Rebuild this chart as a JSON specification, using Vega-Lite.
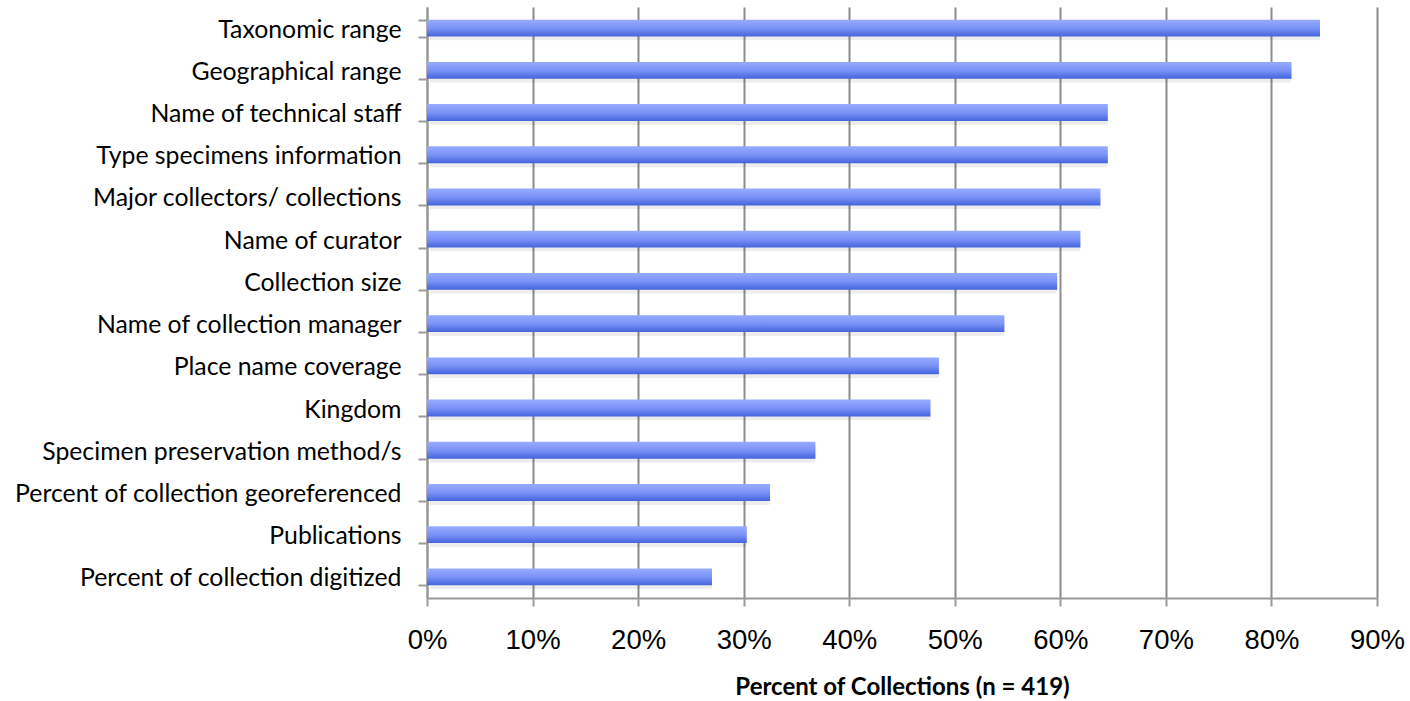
{
  "$schema": "https://vega.github.io/schema/vega-lite/v6.json",
  "autosize": "none",
  "width": 950,
  "height": 591,
  "padding": {"left": 427, "top": 7, "right": 33, "bottom": 103},
  "background": "white",
  "config": {"view": {"stroke": null}},
  "data": {
    "values": [
      {"field": "Taxonomic range", "pct": 84.6},
      {"field": "Geographical range", "pct": 81.9},
      {"field": "Name of technical staff", "pct": 64.5},
      {"field": "Type specimens information", "pct": 64.5},
      {"field": "Major collectors/ collections", "pct": 63.8},
      {"field": "Name of curator", "pct": 61.9},
      {"field": "Collection size", "pct": 59.7},
      {"field": "Name of collection manager", "pct": 54.7},
      {"field": "Place name coverage", "pct": 48.5},
      {"field": "Kingdom", "pct": 47.7},
      {"field": "Specimen preservation method/s", "pct": 36.8},
      {"field": "Percent of collection georeferenced", "pct": 32.5},
      {"field": "Publications", "pct": 30.3},
      {"field": "Percent of collection digitized", "pct": 27.0}
    ]
  },
  "encoding": {
    "y": {
      "field": "field",
      "type": "nominal",
      "sort": null,
      "scale": {"paddingInner": 0.6, "paddingOuter": 0.3},
      "axis": {
        "title": null,
        "domainColor": "#9a9a9a",
        "domainWidth": 2,
        "tickColor": "#9a9a9a",
        "tickWidth": 2,
        "tickSize": 9,
        "tickBand": "extent",
        "labelFont": "Lato",
        "labelFontSize": 24.8,
        "labelColor": "#000000",
        "labelPadding": 17,
        "labelOffset": 2,
        "labelLimit": 420
      }
    },
    "x": {
      "field": "pct",
      "type": "quantitative",
      "scale": {"domain": [0, 90], "nice": false},
      "axis": {
        "values": [0, 10, 20, 30, 40, 50, 60, 70, 80, 90],
        "labelExpr": "datum.value + '%'",
        "labelFlush": false,
        "labelOverlap": false,
        "title": "Percent of Collections (n = 419)",
        "titleFont": "Lato",
        "titleFontWeight": "bold",
        "titleFontSize": 24,
        "titleColor": "#000000",
        "titlePadding": 22,
        "grid": true,
        "gridColor": "#8c8c8c",
        "gridWidth": 2,
        "domainColor": "#9a9a9a",
        "domainWidth": 2,
        "tickColor": "#9a9a9a",
        "tickWidth": 2,
        "tickSize": 8,
        "labelFont": "Liberation Sans",
        "labelFontSize": 27.5,
        "labelColor": "#000000",
        "labelPadding": 20
      }
    }
  },
  "layer": [
    {
      "mark": {"type": "bar", "color": "#000000", "opacity": 0.07, "xOffset": 3, "yOffset": 4, "cornerRadius": 2},
      "encoding": {}
    },
    {
      "mark": {
        "type": "bar",
        "color": {
          "gradient": "linear",
          "x1": 0, "y1": 0, "x2": 0, "y2": 1,
          "stops": [
            {"offset": 0, "color": "#97abff"},
            {"offset": 0.5, "color": "#7b93f8"},
            {"offset": 1, "color": "#4464dc"}
          ]
        }
      },
      "encoding": {}
    }
  ]
}
